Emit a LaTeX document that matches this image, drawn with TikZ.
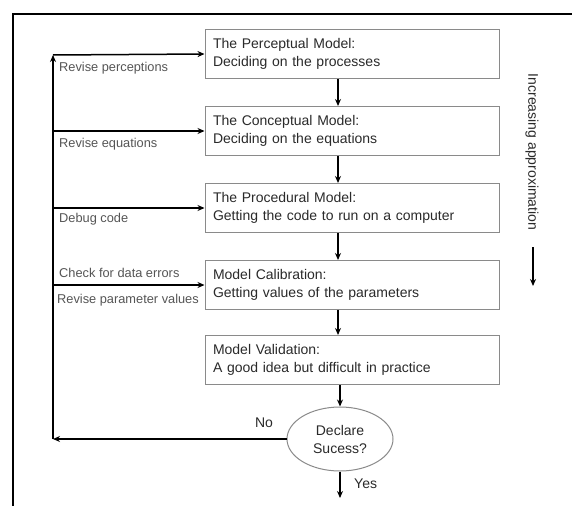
\documentclass[tikz,border=0pt]{standalone}
\usepackage{fontspec}
\setmainfont{Liberation Sans}
\usetikzlibrary{shapes.geometric,arrows.meta}
\definecolor{boxline}{HTML}{8A8A8A}
\definecolor{boxtext}{HTML}{2A2A2A}
\definecolor{labtext}{HTML}{555555}
\tikzset{
  stepbox/.style={draw=boxline, line width=1pt, rectangle, minimum width=294pt, minimum height=49pt,
    text width=278pt, inner xsep=8pt, align=left, text=boxtext, font=\fontsize{14}{18}\selectfont},
  decide/.style={draw=boxline, line width=1pt, ellipse, minimum width=106pt, minimum height=64pt,
    inner sep=0pt, align=center, text=boxtext, font=\fontsize{14}{18}\selectfont},
  flow/.style={line width=1.5pt, -{Stealth[length=7pt,width=6pt]}},
  plain/.style={line width=1.5pt},
  lab/.style={text=labtext, font=\fontsize{12.8}{15}\selectfont, inner sep=0pt},
  big/.style={text=boxtext, font=\fontsize{14}{17}\selectfont, inner sep=0pt}
}
\begin{document}
\begin{tikzpicture}[x=1pt,y=-1pt]
\useasboundingbox (0,0) rectangle (572,506);
\fill[white] (0,0) rectangle (572,506);
% frame
\coordinate (fTL) at (13,14);
\coordinate (fTR) at (572,14);
\coordinate (fBL) at (13,506);
\draw[line width=1.5pt] (fTR) -- (fTL) -- (fBL);
% boxes
\node[stepbox] (b1) at (352,54) {The Perceptual Model:\\Deciding on the processes};
\node[stepbox] (b2) at (352,131) {The Conceptual Model:\\Deciding on the equations};
\node[stepbox] (b3) at (352,208) {The Procedural Model:\\Getting the code to run on a computer};
\node[stepbox] (b4) at (352,285) {Model Calibration:\\Getting values of the parameters};
\node[stepbox] (b5) at (352,360) {Model Validation:\\A good idea but difficult in practice};
\node[decide] (ell) at (340,439) {Declare\\Sucess?};
% down arrows
\draw[flow] ([xshift=-14pt]b1.south) -- ([xshift=-14pt]b2.north);
\draw[flow] ([xshift=-14pt]b2.south) -- ([xshift=-14pt]b3.north);
\draw[flow] ([xshift=-14pt]b3.south) -- ([xshift=-14pt]b4.north);
\draw[flow] ([xshift=-14pt]b4.south) -- ([xshift=-14pt]b5.north);
\draw[flow] ([xshift=-12pt]b5.south) -- (ell.north);
\coordinate (yesend) at (340,498);
\draw[flow] (ell.south) -- (yesend);
\node[big, anchor=west] (yes) at (354,484) {Yes};
% feedback
\coordinate (c0) at (53,439);
\coordinate (c1) at (53,55);
\draw[flow] (ell.west) -- (c0);
\draw[flow] (c0) -- (c1);
\draw[flow] (c1) -- (b1.west);
\draw[flow] (c1 |- b2.west) -- (b2.west);
\draw[flow] (c1 |- b3.west) -- (b3.west);
\draw[flow] (c1 |- b4.west) -- (b4.west);
\node[big] (no) at (264,423) {No};
% labels
\node[lab, anchor=west] (l1) at (59,68) {Revise perceptions};
\node[lab, anchor=west] (l2) at (59,144) {Revise equations};
\node[lab, anchor=west] (l3) at (59,219) {Debug code};
\node[lab, anchor=west] (l4) at (59,273) {Check for data errors};
\node[lab, anchor=west] (l5) at (57,300) {Revise parameter values};
% side note
\node[big, rotate=-90] (incr) at (532,152) {Increasing approximation};
\coordinate (ia) at (533,247);
\coordinate (ib) at (533,286);
\draw[flow] (ia) -- (ib);
\end{tikzpicture}
\end{document}
